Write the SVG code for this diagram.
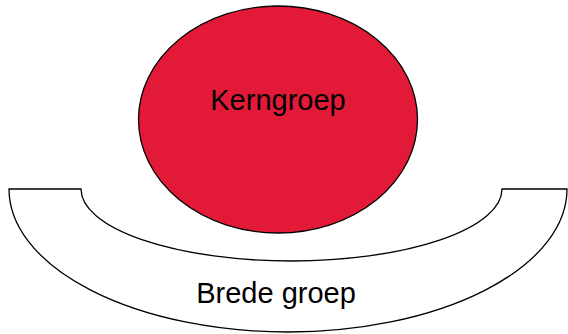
<svg xmlns="http://www.w3.org/2000/svg" width="568" height="334" viewBox="0 0 568 334">
<style>
.shape{stroke:#000;stroke-width:1.3;}
.lbl{font-family:"Liberation Sans",Arial,sans-serif;font-size:29px;fill:#000;text-anchor:middle;}
</style>
<rect width="568" height="334" fill="#fff"/>
<g id="brede-groep">
<path class="shape" fill="#fff" d="M 9 189 L 81 189 A 210.5 72 0 0 0 502 189 L 567 189 A 279 143 0 0 1 9 189 Z"/>
<text class="lbl" x="276" y="303">Brede groep</text>
</g>
<g id="kerngroep">
<ellipse class="shape" cx="278" cy="119.5" rx="139.5" ry="113.5" fill="#E21A38"/>
<text class="lbl" x="278" y="110">Kerngroep</text>
</g>
<g id="connectors"></g>
</svg>
